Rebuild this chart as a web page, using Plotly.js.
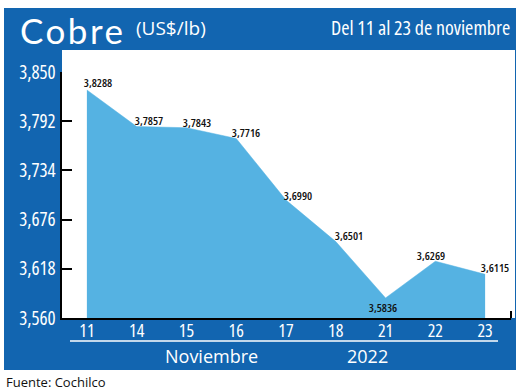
<!DOCTYPE html>
<html>
<head>
<meta charset="utf-8">
<script src="https://cdn.plot.ly/plotly-3.0.1.min.js"></script>
<style>
html,body{margin:0;padding:0;background:#fff;}
#chart{width:520px;height:392px;}
.ytick text{font-stretch:75%;}
.xtick text{font-stretch:75%;}
.annotation text{font-stretch:75%;}
</style>
</head>
<body>
<div id="chart"></div>
<script>
// ---- data ----
const days = ['11', '14', '15', '16', '17', '18', '21', '22', '23'];
const prices = [3.8288, 3.7857, 3.7843, 3.7716, 3.6990, 3.6501, 3.5836, 3.6269, 3.6115];
const yTickValues = [3.560, 3.618, 3.676, 3.734, 3.792, 3.850];
const yTickLabels = ['3,560', '3,618', '3,676', '3,734', '3,792', '3,850'];
const titleMain = 'Cobre';
const titleUnit = '(US$/lb)';
const titleRange = 'Del 11 al 23 de noviembre';
const monthLabel = 'Noviembre';
const yearLabel = '2022';
const sourceLabel = 'Fuente: Cochilco';

// ---- layout helpers ----
const W = 520, H = 392;
const M = {l: 62, r: 9, t: 72, b: 74};
const PW = W - M.l - M.r, PH = H - M.t - M.b;
const px = x => (x - M.l) / PW;
const py = y => (H - M.b - y) / PH;

const BLUE = '#1265b0';
const AREA = '#55b2e2';
const sans = 'Open Sans, Noto Sans, sans-serif';
const stretch = (t, s) => '<span style="font-stretch:' + s + '">' + t + '</span>';

// label offsets (pixels) per point, layout only
const labelShift = [[11,-7],[12,-6],[11,-5],[10,-6],[12,-5],[13,-6],[-3,10],[-4,-6],[10,-7]];

const fmt = v => v.toFixed(4).replace('.', ',');

const trace = {
  x: days, y: prices, type: 'scatter', mode: 'lines',
  fill: 'tozeroy', fillcolor: AREA,
  line: {color: AREA, width: 0.5},
  hoverinfo: 'skip'
};

const annotations = prices.map((v, i) => ({
  x: i, y: v, xref: 'x', yref: 'y', text: fmt(v), showarrow: false,
  xanchor: 'center', yanchor: 'middle',
  xshift: labelShift[i][0], yshift: -labelShift[i][1],
  font: {family: sans, size: 11.5, color: '#111', weight: 600}
}));

annotations.push(
  {xref:'paper', yref:'paper', x: px(18), y: py(30), xanchor:'left', yanchor:'middle', showarrow:false,
   text: '<span style="font-stretch:100%;letter-spacing:2.5px">' + titleMain + '</span>',
   font:{family:'Lato, Open Sans, sans-serif', size:35, color:'#fff'}},
  {xref:'paper', yref:'paper', x: px(134), y: py(28), xanchor:'left', yanchor:'middle', showarrow:false,
   text: stretch(titleUnit, '100%'), font:{family:sans, size:19, color:'#fff'}},
  {xref:'paper', yref:'paper', x: px(512), y: py(28), xanchor:'right', yanchor:'middle', showarrow:false,
   text: stretch(titleRange, '75%'), font:{family:sans, size:20, color:'#fff'}},
  {xref:'paper', yref:'paper', x: px(211), y: py(356), xanchor:'center', yanchor:'middle', showarrow:false,
   text: stretch(monthLabel, '100%'), font:{family:sans, size:18, color:'#fff'}},
  {xref:'paper', yref:'paper', x: px(367), y: py(356), xanchor:'center', yanchor:'middle', showarrow:false,
   text: stretch(yearLabel, '100%'), font:{family:sans, size:18, color:'#fff'}},
  {xref:'paper', yref:'paper', x: px(4), y: py(382), xanchor:'left', yanchor:'middle', showarrow:false,
   text: stretch(sourceLabel, '100%'), font:{family:sans, size:13, color:'#111'}}
);

const shapes = [
  {type:'rect', xref:'paper', yref:'paper', layer:'below', x0: px(4), x1: px(516), y0: py(370), y1: py(8),
   fillcolor: BLUE, line:{width:0}},
  {type:'rect', xref:'paper', yref:'paper', layer:'below', x0: px(62), x1: px(515), y0: py(318), y1: py(50),
   fillcolor: '#ffffff', line:{width:0}},
  {type:'line', xref:'paper', yref:'paper', x0: px(70), x1: px(498), y0: py(341), y1: py(341),
   line:{color:'#ffffff', width:1.5}},
  {type:'line', xref:'paper', yref:'paper', x0: px(511), x1: px(511), y0: py(318), y1: py(311),
   line:{color:'#000', width:2}}
];

const layout = {
  width: W, height: H,
  margin: M,
  paper_bgcolor: '#ffffff',
  plot_bgcolor: 'rgba(0,0,0,0)',
  showlegend: false,
  xaxis: {
    type: 'category', range: [-0.5, 8.52], fixedrange: true,
    showgrid: false, zeroline: false,
    showline: true, linecolor: '#000', linewidth: 2,
    ticks: '', ticklabelstandoff: -5,
    tickfont: {family: sans, size: 18, color: '#fff'}
  },
  yaxis: {
    range: [3.560, 3.850], fixedrange: true,
    tickvals: yTickValues, ticktext: yTickLabels,
    showgrid: false, zeroline: false,
    showline: true, linecolor: '#000', linewidth: 2.5,
    ticks: 'inside', ticklen: 10, tickwidth: 2, tickcolor: '#000',
    tickfont: {family: sans, size: 19, color: '#fff'}
  },
  shapes: shapes,
  annotations: annotations
};

Plotly.newPlot('chart', [trace], layout, {displayModeBar: false, staticPlot: true});
</script>
</body>
</html>
